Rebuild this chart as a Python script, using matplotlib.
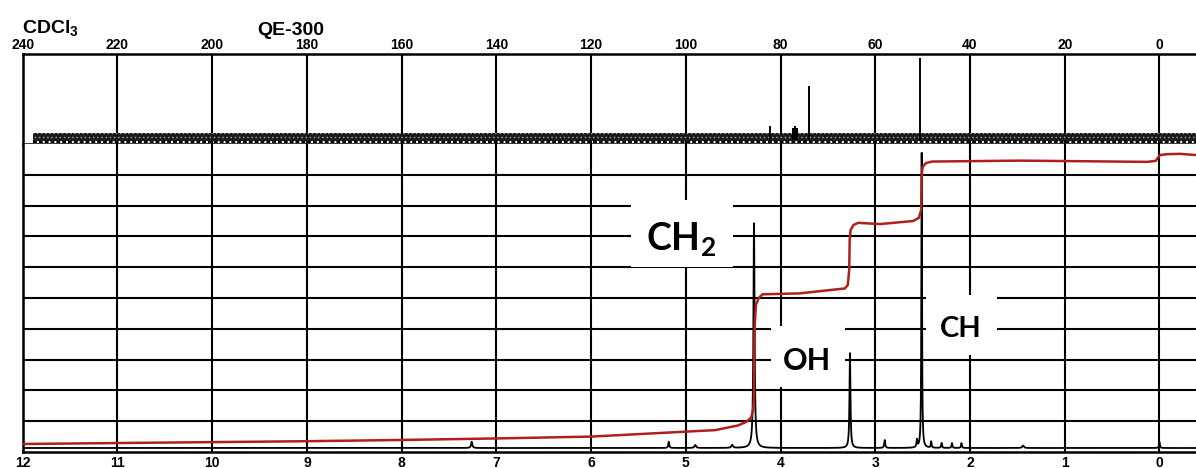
import numpy as np
import matplotlib.pyplot as plt
from matplotlib.patches import Rectangle

plt.rcParams['font.family'] = ['Liberation Sans', 'DejaVu Sans']
plt.rcParams['mathtext.default'] = 'regular'
plt.rcParams['hatch.linewidth'] = 0.6

# ---- 13C spectrum (top strip), ppm ----
c13_ticks = [240, 220, 200, 180, 160, 140, 120, 100, 80, 60, 40, 20, 0]
c13_shift = [82.2, 77.4, 77.0, 76.6, 73.9, 50.5]
c13_height = [18, 16, 18, 16, 58, 86]
c13_noise_from = 237.8

# ---- 1H spectrum (main panel), ppm, height in % of panel ----
h1_ticks = list(range(12, -1, -1))
h1_shift = [7.26, 5.18, 4.90, 4.51, 4.28, 3.267, 2.90, 2.56, 2.51, 2.41, 2.30, 2.19, 2.09, 1.44, 0.0]
h1_height = [2.0, 2.0, 1.0, 1.0, 73.0, 30.8, 2.6, 2.4, 95.8, 2.0, 1.6, 1.6, 1.6, 0.8, 2.0]
h1_width = [0.008, 0.006, 0.01, 0.01, 0.007, 0.006, 0.006, 0.005, 0.004, 0.005, 0.005, 0.005, 0.005, 0.01, 0.005]
h1_base = 1.3

# integral trace
int_ppm = [12.0, 11.03, 9.01, 8.01, 7.00, 6.00, 5.38, 4.69, 4.45, 4.36, 4.31, 4.29, 4.28, 4.275,
           4.26, 4.23, 4.19, 3.80, 3.32, 3.29, 3.275, 3.27, 3.26, 3.23, 3.18, 2.95, 2.60,
           2.54, 2.515, 2.51, 2.50, 2.465, 2.40, 1.47, 0.13, 0.04, 0.01, -0.005, -0.08, -0.22, -0.39]
int_level = [2.6, 2.9, 3.5, 3.9, 4.4, 5.0, 6.0, 7.1, 8.6, 9.8, 11.2, 13.5, 17.5, 39.6,
             47.7, 50.0, 51.2, 51.5, 53.1, 54.2, 59.1, 68.8, 72.1, 73.7, 74.4, 74.0, 75.0,
             76.0, 78.6, 89.9, 92.5, 93.8, 94.3, 94.6, 94.2, 94.5, 95.8, 96.4, 96.7, 96.8, 96.4]

peak_labels = ['CH$_2$', 'OH', 'CH']

W, H = 1196, 468
fig = plt.figure(figsize=(W / 100, H / 100), dpi=100)
left = 22.7 / W
top_ax = fig.add_axes([left, (H - 144) / H, 1 - left, 90 / H])
bot_ax = fig.add_axes([left, (H - 452) / H, 1 - left, 308 / H])

lw = 1.5

# top strip
top_ax.set_xlim(240, -7.72)
top_ax.set_ylim(0, 90)
top_ax.set_xticks(c13_ticks)
top_ax.set_yticks([])
top_ax.xaxis.tick_top()
top_ax.tick_params(axis='x', length=0, pad=1.5, labelsize=10)
for t in top_ax.get_xticklabels():
    t.set_fontweight('bold')
top_ax.grid(True, axis='x', color='black', lw=lw)
top_ax.set_axisbelow(True)
for s in ['top', 'left', 'bottom']:
    top_ax.spines[s].set_linewidth(lw + 0.3)
top_ax.spines['right'].set_visible(False)

# noisy baseline drawn as a textured band
top_ax.fill_between([c13_noise_from, -7.72], 3.5, 11, facecolor='#1a1a1a', edgecolor='#9a9a9a',
                    hatch='....', lw=0, zorder=3)
top_ax.plot([c13_noise_from, -7.72], [1.8, 1.8], color='black', lw=1.4, ls=(0, (2, 1)), zorder=3)
top_ax.vlines(c13_shift, 4, c13_height, color='black', lw=1.4, zorder=3)

# main 1H panel
bot_ax.set_xlim(12, -0.386)
bot_ax.set_ylim(0, 100)
bot_ax.set_xticks(h1_ticks)
bot_ax.set_yticks(range(10, 100, 10))
bot_ax.tick_params(axis='x', length=0, pad=3, labelsize=10)
bot_ax.tick_params(axis='y', length=0, labelleft=False)
for t in bot_ax.get_xticklabels():
    t.set_fontweight('bold')
bot_ax.grid(True, color='black', lw=lw)
bot_ax.set_axisbelow(True)
bot_ax.spines['top'].set_visible(False)
bot_ax.spines['right'].set_visible(False)
bot_ax.spines['left'].set_linewidth(lw + 0.3)
bot_ax.spines['bottom'].set_linewidth(lw + 0.3)

x = np.linspace(12, -0.386, 12400)
y = np.full_like(x, h1_base)
for s, h, w in zip(h1_shift, h1_height, h1_width):
    y += h * w ** 2 / (w ** 2 + (x - s) ** 2)
bot_ax.plot(x, y, color='black', lw=1.3, zorder=4)
bot_ax.plot(int_ppm, int_level, color='#b01e1e', lw=1.8, zorder=5)

# white label boxes
boxes = [((5.58, 4.50), (60.1, 81.8)), ((4.10, 3.32), (21.1, 40.9)), ((2.465, 1.715), (31.5, 51.0))]
for (x0, x1), (y0, y1) in boxes:
    bot_ax.add_patch(Rectangle((x1, y0), x0 - x1, y1 - y0, facecolor='white', edgecolor='none', zorder=3))
text_pos = [(5.05, 65.6, 27), (3.72, 26.6, 22), (2.095, 37.2, 21)]
for lab, (tx, ty, fs) in zip(peak_labels, text_pos):
    bot_ax.text(tx, ty, lab, ha='center', va='baseline', fontsize=fs, fontweight='bold',
                family=['Lato', 'DejaVu Sans'], zorder=6)

fig.text(22 / W, (H - 33) / H, 'CDCl$_3$', fontsize=14, fontweight='bold', va='baseline')
fig.text(291 / W, (H - 35) / H, 'QE-300', fontsize=14, fontweight='bold', va='baseline', ha='center')

fig.savefig('out.png', dpi=100)
